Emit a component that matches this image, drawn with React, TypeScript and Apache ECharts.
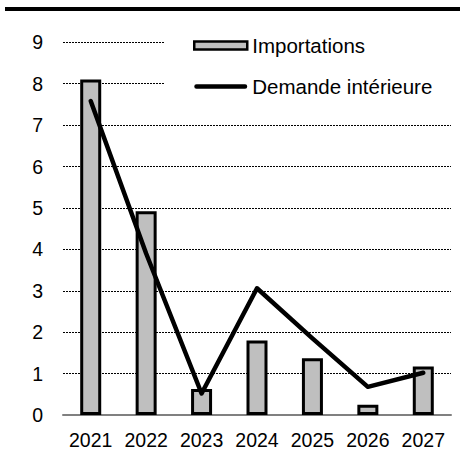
import React, { useEffect, useRef } from "react";
import * as echarts from "echarts";

const years = ["2021", "2022", "2023", "2024", "2025", "2026", "2027"];
const importations = [8.1, 4.92, 0.63, 1.8, 1.37, 0.25, 1.17];
const demandeInterieure = [7.58, 3.9, 0.52, 3.06, 1.85, 0.68, 1.02];
const yTicks = [0, 1, 2, 3, 4, 5, 6, 7, 8, 9];

export default function App() {
  const ref = useRef<HTMLDivElement>(null);
  useEffect(() => {
    if (!ref.current) return;
    const chart = echarts.init(ref.current, undefined, { renderer: "svg" });
    const font = "'Liberation Sans', Arial, sans-serif";
    chart.setOption({
      animation: false,
      backgroundColor: "#ffffff",
      textStyle: { fontFamily: font },
      graphic: [
        {
          type: "rect",
          shape: { x: 5, y: 7, width: 455, height: 4 },
          style: { fill: "#000" },
          z: 100,
        },
      ],
      grid: { left: 63, right: 18, top: 42.3, bottom: 43, containLabel: false },
      legend: {
        orient: "vertical",
        left: 165,
        top: 28,
        padding: [7, 30, 10, 28],
        backgroundColor: "#ffffff",
        itemWidth: 53,
        itemHeight: 8,
        itemGap: 20,
        symbolKeepAspect: true,
        textStyle: { fontSize: 20.5, color: "#000", fontFamily: font },
        data: [
          {
            name: "Importations",
            icon: "rect",
            itemStyle: { color: "#BFBFBF", borderColor: "#000", borderWidth: 2.5 },
          },
          {
            name: "Demande intérieure",
            icon: "path://M2.25,0H51.75A2.25,2.25 0 0 1 51.75,4.5H2.25A2.25,2.25 0 0 1 2.25,0Z",
            itemStyle: { color: "#000", borderWidth: 0 },
          },
        ],
        z: 10,
      },
      xAxis: {
        type: "category",
        data: years,
        axisLine: { show: true, lineStyle: { color: "#808080", width: 2 } },
        axisTick: { show: false },
        axisLabel: { fontSize: 19.5, color: "#000", margin: 15, interval: 0, fontFamily: font },
      },
      yAxis: {
        type: "value",
        min: yTicks[0],
        max: yTicks[yTicks.length - 1],
        interval: 1,
        axisLine: { show: false },
        axisTick: { show: false },
        axisLabel: { fontSize: 19.5, color: "#000", margin: 20, fontFamily: font },
        splitLine: { show: true, lineStyle: { color: "#000", width: 1, type: [2, 1] } },
      },
      series: [
        {
          name: "Importations",
          type: "bar",
          data: importations,
          barWidth: 21,
          itemStyle: { color: "#BFBFBF", borderColor: "#000", borderWidth: 3 },
          z: 2,
        },
        {
          name: "Demande intérieure",
          type: "line",
          data: demandeInterieure,
          symbol: "none",
          lineStyle: { color: "#000", width: 4.5, cap: "round", join: "round" },
          itemStyle: { color: "#000" },
          z: 3,
        },
      ],
    });
    return () => chart.dispose();
  }, []);
  return (
    <div
      ref={ref}
      style={{ position: "fixed", left: 0, top: 0, width: 469, height: 458 }}
    />
  );
}
